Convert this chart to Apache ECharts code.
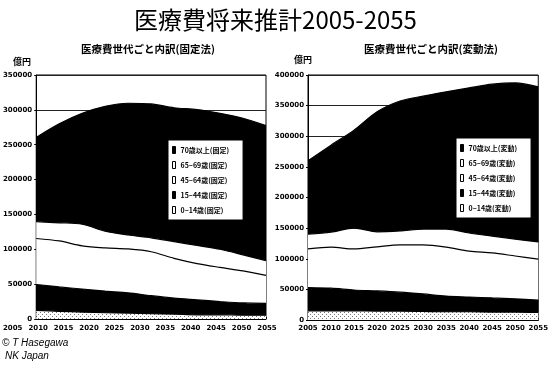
<!DOCTYPE html>
<html>
<head>
<meta charset="utf-8">
<script src="https://cdn.jsdelivr.net/npm/echarts@6/dist/echarts.min.js"></script>
<style>
  html, body { margin: 0; padding: 0; background: #fff; }
  #chart { width: 551px; height: 365px; }
</style>
</head>
<body>
<div id="chart"></div>
<script>
// Years on the category axis
const years = ['2005', '2010', '2015', '2020', '2025', '2030', '2035', '2040', '2045', '2050', '2055'];

// Age-group labels (oldest first, as listed in the legend)
const groupsFixed = ['70歳以上(固定)', '65~69歳(固定)', '45~64歳(固定)', '15~44歳(固定)', '0~14歳(固定)'];
const groupsVar = ['70歳以上(変動)', '65~69歳(変動)', '45~64歳(変動)', '15~44歳(変動)', '0~14歳(変動)'];

// 固定法 (億円)
const fixAge0to14 = [12500, 11000, 10000, 9000, 8500, 7500, 7000, 6000, 6000, 5500, 5500];
const fixAge15to44 = [37000, 35000, 33000, 31000, 29000, 26000, 23000, 21500, 19000, 17500, 17000];
const fixAge45to64 = [66000, 66000, 62000, 62000, 63000, 63000, 57000, 52000, 49000, 46000, 40000];
const fixAge65to69 = [24000, 26000, 31000, 24000, 20000, 20000, 24000, 26000, 26000, 23000, 21000];
const fixAge70up = [121000, 142000, 159000, 179000, 189000, 192000, 192000, 195000, 195000, 196000, 194000];

// 変動法 (億円)
const varAge0to14 = [15000, 15000, 15000, 14500, 14500, 14000, 13500, 13500, 13000, 13000, 12500];
const varAge15to44 = [38000, 37000, 34000, 33000, 31000, 28500, 25500, 24000, 23000, 21500, 20000];
const varAge45to64 = [63000, 67000, 67000, 72000, 77000, 80000, 80000, 75000, 73500, 70000, 67000];
const varAge65to69 = [24000, 24500, 34000, 24500, 23000, 26000, 29500, 29500, 27500, 27500, 28000];
const varAge70up = [120000, 142000, 160000, 196000, 212000, 217000, 224000, 237000, 248000, 255000, 253000];

// Stippled fill for the youngest band
function dotPattern() {
  const c = document.createElement('canvas');
  c.width = 4; c.height = 4;
  const g = c.getContext('2d');
  g.fillStyle = '#fff'; g.fillRect(0, 0, 4, 4);
  g.fillStyle = '#777';
  g.fillRect(0, 0, 1, 1);
  g.fillRect(2, 2, 1, 1);
  return c;
}
const dots = { image: dotPattern(), repeat: 'repeat' };

const fills = ['#000', '#fff', '#fff', '#000', dots];      // oldest -> youngest
const legendFills = ['#000', '#fff', '#fff', '#000', '#fff'];

function stackSeries(names, dataList, axisIdx, stackId) {
  // dataList is youngest first; names are oldest first
  const out = [];
  for (let i = 0; i < dataList.length; i++) {
    const k = dataList.length - 1 - i;
    out.push({
      name: names[k],
      type: 'line',
      xAxisIndex: axisIdx,
      yAxisIndex: axisIdx,
      stack: stackId,
      data: dataList[i],
      symbol: 'none',
      smooth: 0.3,
      lineStyle: { color: '#000', width: 1.2 },
      itemStyle: { color: legendFills[k] },
      areaStyle: { color: fills[k], opacity: 1 },
      emphasis: { disabled: true }
    });
  }
  return out;
}

function legendBox(names, left, top) {
  return {
    orient: 'vertical',
    left: left,
    top: top,
    data: names.map((n, k) => ({
      name: n,
      icon: 'rect',
      itemStyle: { color: legendFills[k], borderColor: '#000', borderWidth: 1 }
    })),
    itemWidth: 3,
    itemHeight: 7,
    itemGap: 7,
    padding: [6, 14, 6, 4],
    backgroundColor: '#fff',
    borderColor: '#000',
    borderWidth: 1,
    textStyle: { fontSize: 7, fontWeight: 'bold', color: '#000', fontFamily: 'Noto Sans CJK JP' },
    selectedMode: false,
    z: 10
  };
}

const tickFont = { fontSize: 7, fontWeight: 'bold', color: '#000', fontFamily: 'DejaVu Sans' };

function valueAxis(gridIndex, max) {
  return {
    gridIndex: gridIndex,
    type: 'value',
    min: 0,
    max: max,
    interval: 50000,
    axisLine: { show: true, lineStyle: { color: '#000', width: 1 } },
    axisTick: { show: true, length: 2, lineStyle: { color: '#000' } },
    axisLabel: Object.assign({ margin: 4, formatter: v => String(v) }, tickFont),
    splitLine: { show: true, lineStyle: { color: '#222', width: 1 } }
  };
}

const chart = echarts.init(document.getElementById('chart'), null, { renderer: 'canvas' });

chart.setOption({
  animation: false,
  backgroundColor: '#fff',
  title: [
    { text: '医療費将来推計2005-2055', left: 'center', top: 3,
      textStyle: { fontSize: 24, fontWeight: 'normal', color: '#000', fontFamily: 'Noto Sans CJK JP' } },
    { text: '医療費世代ごと内訳(固定法)', left: 143, top: 39, textAlign: 'center',
      textStyle: { fontSize: 10.5, fontWeight: 'bold', color: '#000', fontFamily: 'Noto Sans CJK JP' } },
    { text: '医療費世代ごと内訳(変動法)', left: 426, top: 39, textAlign: 'center',
      textStyle: { fontSize: 10.5, fontWeight: 'bold', color: '#000', fontFamily: 'Noto Sans CJK JP' } },
    { text: '億円', left: 8, top: 52,
      textStyle: { fontSize: 9, fontWeight: 'bold', color: '#000', fontFamily: 'Noto Sans CJK JP' } },
    { text: '億円', left: 289, top: 50,
      textStyle: { fontSize: 9, fontWeight: 'bold', color: '#000', fontFamily: 'Noto Sans CJK JP' } },
    { text: '© T Hasegawa', left: -3, top: 333,
      textStyle: { fontSize: 10, fontStyle: 'italic', fontWeight: 'normal', color: '#000', fontFamily: 'Liberation Sans' } },
    { text: 'NK Japan', left: 0, top: 346,
      textStyle: { fontSize: 10, fontStyle: 'italic', fontWeight: 'normal', color: '#000', fontFamily: 'Liberation Sans' } }
  ],
  legend: [legendBox(groupsFixed, 168, 140), legendBox(groupsVar, 456, 138)],
  grid: [
    { left: 30, top: 75, width: 236, height: 244, show: true, borderColor: '#000', borderWidth: 1 },
    { left: 10, top: 319, width: 257, height: 1 },
    { left: 308, top: 75, width: 239, height: 245, show: true, borderColor: '#000', borderWidth: 1 }
  ],
  xAxis: [
    { gridIndex: 0, type: 'category', data: years, boundaryGap: false,
      axisLine: { lineStyle: { color: '#000', width: 1 } },
      axisTick: { show: true, inside: true, length: 2, lineStyle: { color: '#000' } },
      axisLabel: { show: false }, splitLine: { show: false } },
    { gridIndex: 1, type: 'category', data: years, boundaryGap: false,
      axisLine: { show: false }, axisTick: { show: false },
      axisLabel: Object.assign({ interval: 0, margin: 5 }, tickFont), splitLine: { show: false } },
    { gridIndex: 2, type: 'category', data: years, boundaryGap: false,
      axisLine: { lineStyle: { color: '#000', width: 1 } },
      axisTick: { show: true, inside: true, length: 2, lineStyle: { color: '#000' } },
      axisLabel: Object.assign({ interval: 0, margin: 5 }, tickFont), splitLine: { show: false } }
  ],
  yAxis: [
    valueAxis(0, 350000),
    { gridIndex: 1, type: 'value', show: false },
    valueAxis(2, 400000)
  ],
  series: [].concat(
    stackSeries(groupsFixed, [fixAge0to14, fixAge15to44, fixAge45to64, fixAge65to69, fixAge70up], 0, 'fixed'),
    stackSeries(groupsVar, [varAge0to14, varAge15to44, varAge45to64, varAge65to69, varAge70up], 2, 'variable')
  )
});
</script>
</body>
</html>
